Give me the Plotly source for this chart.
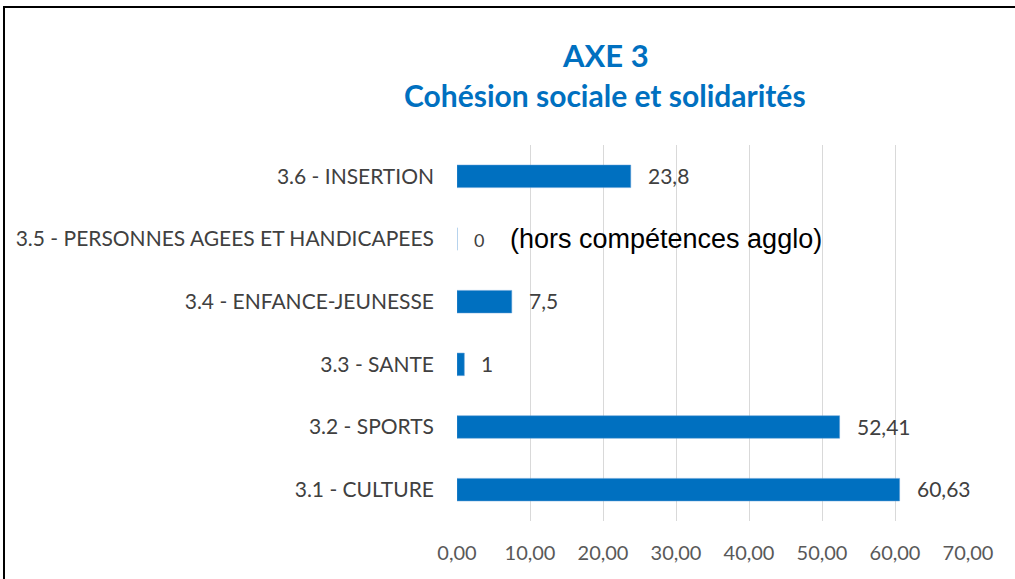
import plotly.graph_objects as go

categories = ["3.1 - CULTURE", "3.2 - SPORTS", "3.3 - SANTE", "3.4 - ENFANCE-JEUNESSE",
              "3.5 - PERSONNES AGEES ET HANDICAPEES", "3.6 - INSERTION"]
values = [60.63, 52.41, 1, 7.5, 0, 23.8]
labels = [str(v).replace(".", ",") for v in values]
note_text = "(hors compétences agglo)"
note_category = "3.5 - PERSONNES AGEES ET HANDICAPEES"
x_ticks = [0, 10, 20, 30, 40, 50, 60, 70]

BLUE = "#0070C0"
FONT = "Lato, Open Sans, sans-serif"

fig = go.Figure()
fig.add_trace(go.Bar(
    y=categories, x=values, orientation="h",
    marker=dict(color=BLUE, line=dict(color="#5B9BD5", width=0.5)),
    width=0.36, hoverinfo="x+y",
))

for cat, v, lab in zip(categories, values, labels):
    fig.add_annotation(
        x=v, y=cat, xref="x", yref="y", text=lab, showarrow=False,
        xanchor="left", yanchor="middle", xshift=15, yshift=1 if v else -1,
        font=dict(family=FONT, size=21 if v else 18, color="#404040"),
    )

fig.add_annotation(
    x=7.0, y=note_category, xref="x", yref="y", text=note_text,
    showarrow=False, xanchor="left", yanchor="middle", yshift=0,
    font=dict(family="Liberation Sans, Arial, sans-serif", size=27, color="#000000"),
)
fig.add_annotation(
    x=0.29, y=1.239, xref="paper", yref="paper", xanchor="center", yanchor="middle",
    text="<b>AXE 3</b>", showarrow=False,
    font=dict(family=FONT, size=31, color=BLUE),
)
fig.add_annotation(
    x=0.29, y=1.133, xref="paper", yref="paper", xanchor="center", yanchor="middle",
    text="<b>Cohésion sociale et solidarités</b>", showarrow=False,
    font=dict(family=FONT, size=30, color=BLUE),
)
fig.add_shape(type="rect", xref="paper", yref="paper",
              x0=-0.8865, x1=1.2, y0=-0.3, y1=1.367,
              line=dict(color="#000000", width=2), layer="below")

fig.update_layout(
    width=1015, height=579,
    margin=dict(l=457, r=47, t=145, b=58),
    paper_bgcolor="white", plot_bgcolor="white",
    separators=", ",
    showlegend=False,
    font=dict(family=FONT, size=20, color="#404040"),
    xaxis=dict(range=[0, 70], tickvals=x_ticks, tickformat=".2f",
               showgrid=True, gridcolor="#D9D9D9", gridwidth=1,
               zeroline=False, showline=False, ticks="", automargin=False,
               ticklabelstandoff=18,
               tickfont=dict(family=FONT, size=20, color="#595959"),
               fixedrange=True),
    yaxis=dict(categoryorder="array", categoryarray=categories,
               showgrid=False, zeroline=False, showline=False, ticks="",
               ticklabelstandoff=22, automargin=False,
               tickfont=dict(family=FONT, size=21, color="#404040"),
               fixedrange=True),
)

fig.write_html("out.html", config={"displayModeBar": False},
               post_script="document.body.style.margin='0';document.body.style.overflow='hidden';")
